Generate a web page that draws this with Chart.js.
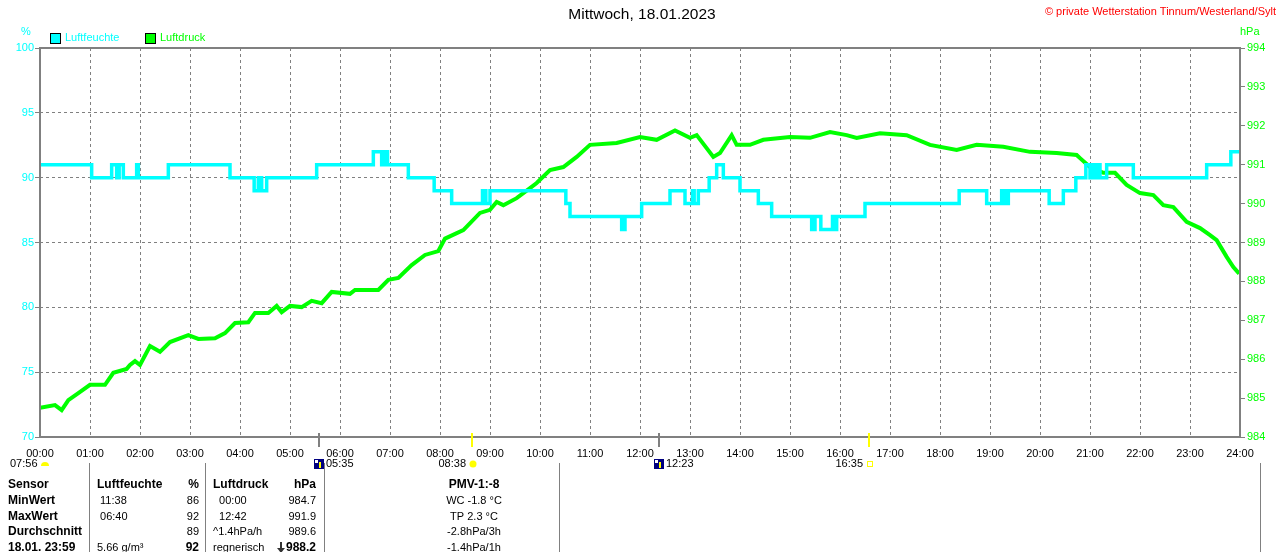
<!DOCTYPE html>
<html>
<head>
<meta charset="utf-8">
<script src="https://cdn.jsdelivr.net/npm/chart.js@4.4.1/dist/chart.umd.min.js"></script>
<style>
  html, body { margin: 0; padding: 0; background: #fff; }
  #wrap { width: 1280px; height: 552px; position: relative; }
</style>
</head>
<body>
<div id="wrap"><canvas id="wetter"></canvas></div>
<script>
const FONT = '"Liberation Sans", Arial, sans-serif';
const GREY = '#808080';
const CYAN = '#00ffff';
const GREEN = '#00ff00';

// Luftfeuchte (%), step changes over the day
const humTimes = ['00:00','01:02','01:26','01:32','01:35','01:40','01:56','01:58','02:34','03:48',
  '04:17','04:22','04:26','04:32','05:32','06:40','06:50','06:53','06:57','07:22','07:53','08:14',
  '08:51','08:55','09:00','10:31','10:36','11:38','11:42','12:02','12:36','12:54','13:03','13:05',
  '13:10','13:23','13:32','13:40','14:00','14:22','14:38','15:26','15:30','15:37','15:51','15:53',
  '15:56','16:30','18:23','18:56','19:14','19:18','19:22','20:11','20:28','20:43','20:55','21:00',
  '21:03','21:06','21:08','21:12','21:20','21:52','23:20','23:49','23:59'];
const humValues = [91,90,91,90,91,90,91,90,91,90,
  89,90,89,90,91,92,91,92,91,90,89,88,
  89,88,89,88,87,86,87,88,89,88,89,88,
  89,90,91,90,89,88,87,86,87,86,87,86,
  87,88,89,88,89,88,89,88,89,90,91,90,
  91,90,91,90,91,90,91,92,92];

// Luftdruck (hPa)
const pressTimes = ['00:00','00:18','00:26','00:34','00:46','01:00','01:18','01:28','01:44','01:48',
  '01:54','02:00','02:12','02:24','02:36','02:58','03:10','03:30','03:42','03:54','04:10','04:18',
  '04:34','04:44','04:50','05:00','05:14','05:26','05:38','05:50','06:12','06:18','06:46','06:58',
  '07:10','07:26','07:42','07:58','08:06','08:28','08:48','09:00','09:08','09:16','09:32','09:48',
  '09:56','10:12','10:28','10:44','11:00','11:32','12:00','12:20','12:42','13:00','13:08','13:28',
  '13:36','13:50','13:56','14:12','14:28','15:00','15:24','15:48','16:08','16:20','16:48','17:20',
  '17:48','18:20','18:44','19:16','19:48','20:20','20:44','20:48','21:00','21:16','21:30','21:44',
  '22:00','22:16','22:28','22:40','22:56','23:12','23:24','23:32','23:44','23:52','23:59'];
const pressValues = [984.75,984.82,984.69,984.95,985.13,985.34,985.34,985.65,985.75,985.85,
  985.95,985.85,986.34,986.19,986.44,986.62,986.52,986.54,986.67,986.93,986.95,987.19,
  987.19,987.37,987.21,987.37,987.34,987.50,987.44,987.73,987.68,987.78,987.78,988.04,
  988.09,988.42,988.68,988.78,989.10,989.32,989.76,989.84,990.04,989.96,990.14,990.40,
  990.53,990.86,990.94,991.20,991.51,991.56,991.71,991.64,991.88,991.69,991.76,991.20,
  991.30,991.76,991.51,991.51,991.64,991.71,991.69,991.84,991.76,991.69,991.81,991.76,
  991.51,991.38,991.51,991.46,991.33,991.30,991.25,991.17,990.94,990.79,990.79,990.48,
  990.27,990.22,989.96,989.91,989.53,989.37,989.19,989.06,988.63,988.37,988.20];

// Sonne / Mond
const eventTimes = ['05:35', '08:38', '12:23', '16:35'];
const eventKinds = ['moon', 'sun', 'moon', 'sunset'];

const tableHead = ['Sensor', 'Luftfeuchte', '%', 'Luftdruck', 'hPa', 'PMV-1:-8'];
const tableRows = [
  ['MinWert', ' 11:38', '86', '  00:00', '984.7', 'WC -1.8 °C'],
  ['MaxWert', ' 06:40', '92', '  12:42', '991.9', 'TP 2.3 °C'],
  ['Durchschnitt', '', '89', '^1.4hPa/h', '989.6', '-2.8hPa/3h'],
  ['18.01. 23:59', '5.66 g/m³', '92', 'regnerisch', '988.2', '-1.4hPa/1h']
];

const toMin = t => { const [h, m] = t.split(':').map(Number); return h * 60 + m; };
const hhmm = v => String(Math.floor(v / 60)).padStart(2, '0') + ':00';

const decor = {
  id: 'decor',
  afterDatasetsDraw(chart) {
    const { ctx, chartArea: a } = chart;
    ctx.save();
    ctx.strokeStyle = GREY;
    ctx.lineWidth = 2;
    ctx.strokeRect(a.left, a.top, a.right - a.left, a.bottom - a.top);
    ctx.restore();
  },
  afterDraw(chart) {
    const { ctx, chartArea: a, scales: { x } } = chart;
    ctx.save();
    ctx.textBaseline = 'middle';

    // Titel + Copyright
    ctx.fillStyle = '#000';
    ctx.font = '15.5px ' + FONT;
    ctx.textAlign = 'center';
    ctx.fillText('Mittwoch, 18.01.2023', 642, 15);
    ctx.fillStyle = '#ff0000';
    ctx.font = '11px ' + FONT;
    ctx.textAlign = 'right';
    ctx.fillText('© private Wetterstation Tinnum/Westerland/Sylt', 1276, 12);

    // Einheiten
    ctx.font = '11px ' + FONT;
    ctx.textAlign = 'center';
    ctx.fillStyle = CYAN;
    ctx.fillText('%', 26, 32);
    ctx.textAlign = 'left';
    ctx.fillStyle = GREEN;
    ctx.fillText('hPa', 1240, 32);

    // Legende
    let lx = 50;
    chart.data.datasets.forEach(ds => {
      ctx.fillStyle = ds.borderColor;
      ctx.fillRect(lx, 33, 10, 10);
      ctx.strokeStyle = '#000';
      ctx.lineWidth = 1;
      ctx.strokeRect(lx + 0.5, 33.5, 10, 10);
      ctx.fillStyle = ds.borderColor;
      ctx.fillText(ds.label, lx + 15, 38);
      lx += 95;
    });

    // Sonnen-/Mondzeiten
    ctx.fillStyle = '#000';
    ctx.textAlign = 'left';
    ctx.fillText('07:56', 10, 464);
    ctx.fillStyle = '#ffff00';
    ctx.beginPath();
    ctx.arc(45, 466, 4, Math.PI, 0);
    ctx.fill();
    eventTimes.forEach((t, i) => {
      const px = Math.round(x.getPixelForValue(toMin(t)));
      const kind = eventKinds[i];
      ctx.fillStyle = kind === 'moon' ? GREY : '#ffff00';
      ctx.fillRect(px - 1, a.bottom - 4, 2, 14);
      ctx.fillStyle = '#000';
      if (kind === 'moon') {
        ctx.fillStyle = '#000080';
        ctx.fillRect(px - 5, 459, 10, 10);
        ctx.fillStyle = '#fff';
        ctx.fillRect(px - 4, 460, 3, 3);
        ctx.fillStyle = '#ffff00';
        ctx.fillRect(px, 462, 2, 6);
        ctx.fillStyle = '#000';
        ctx.textAlign = 'left';
        ctx.fillText(t, px + 7, 464);
      } else {
        ctx.textAlign = 'right';
        ctx.fillText(t, px - 6, 464);
        ctx.fillStyle = '#ffff00';
        if (kind === 'sun') {
          ctx.beginPath();
          ctx.arc(px + 1, 464, 3.5, 0, Math.PI * 2);
          ctx.fill();
        } else {
          ctx.strokeStyle = '#ffff00';
          ctx.lineWidth = 1;
          ctx.strokeRect(px - 1.5, 461.5, 5, 5);
        }
      }
    });

    // Tabelle
    ctx.strokeStyle = GREY;
    ctx.lineWidth = 1;
    [89, 205, 324, 559, 1260].forEach(sx => {
      ctx.beginPath();
      ctx.moveTo(sx + 0.5, 463);
      ctx.lineTo(sx + 0.5, 552);
      ctx.stroke();
    });
    const colX = [8, 97, 199, 213, 316, 474];
    const colAlign = ['left', 'left', 'right', 'left', 'right', 'center'];
    const rowY = [485, 501, 517, 532, 548];
    const bold = '12px ' + FONT, normal = '11px ' + FONT;
    ctx.fillStyle = '#000';
    tableHead.forEach((txt, c) => {
      ctx.font = 'bold ' + bold;
      ctx.textAlign = colAlign[c];
      ctx.fillText(txt, colX[c], rowY[0]);
    });
    tableRows.forEach((row, r) => {
      row.forEach((txt, c) => {
        const isBold = c === 0 || (r === tableRows.length - 1 && (c === 2 || c === 4));
        ctx.font = isBold ? 'bold ' + bold : normal;
        ctx.textAlign = colAlign[c];
        ctx.fillText(txt, colX[c], rowY[r + 1]);
      });
    });
    // Tendenzpfeil
    ctx.fillStyle = '#333';
    ctx.fillRect(280, 542, 2, 8);
    ctx.beginPath();
    ctx.moveTo(277, 548); ctx.lineTo(285, 548); ctx.lineTo(281, 553);
    ctx.fill();
    ctx.restore();
  }
};

new Chart(document.getElementById('wetter'), {
  type: 'line',
  data: {
    datasets: [{
      label: 'Luftfeuchte',
      data: humTimes.map((t, i) => ({ x: toMin(t), y: humValues[i] })),
      borderColor: CYAN,
      backgroundColor: CYAN,
      borderWidth: 3.5,
      stepped: 'before',
      yAxisID: 'y'
    }, {
      label: 'Luftdruck',
      data: pressTimes.map((t, i) => ({ x: toMin(t), y: pressValues[i] })),
      borderColor: GREEN,
      backgroundColor: GREEN,
      borderWidth: 4,
      tension: 0,
      yAxisID: 'y1'
    }]
  },
  options: {
    responsive: true,
    maintainAspectRatio: false,
    animation: false,
    layout: { padding: { top: 48, left: 0, right: 0, bottom: 0 } },
    elements: { point: { radius: 0 } },
    plugins: { legend: { display: false }, tooltip: { enabled: false } },
    scales: {
      x: {
        type: 'linear',
        min: 0,
        max: 1440,
        afterFit: s => { s.height = 115; },
        ticks: {
          stepSize: 60,
          autoSkip: false,
          maxRotation: 0,
          padding: 10,
          color: '#000',
          font: { family: FONT, size: 11 },
          callback: v => hhmm(v)
        },
        grid: { color: GREY, lineWidth: 1, drawTicks: false },
        border: { display: false, dash: [3, 3] }
      },
      y: {
        position: 'left',
        min: 70,
        max: 100,
        afterFit: s => { s.width = 40; },
        ticks: {
          stepSize: 5,
          padding: 1,
          color: CYAN,
          font: { family: FONT, size: 11 }
        },
        grid: { color: GREY, lineWidth: 1, tickLength: 5, tickColor: GREY, tickBorderDash: [] },
        border: { display: false, dash: [3, 3] }
      },
      y1: {
        position: 'right',
        min: 984,
        max: 994,
        afterFit: s => { s.width = 40; },
        ticks: {
          stepSize: 1,
          padding: 2,
          color: GREEN,
          font: { family: FONT, size: 11 }
        },
        grid: { drawOnChartArea: false, color: GREY, tickLength: 5, tickColor: GREY },
        border: { display: false }
      }
    }
  },
  plugins: [decor]
});
</script>
</body>
</html>
